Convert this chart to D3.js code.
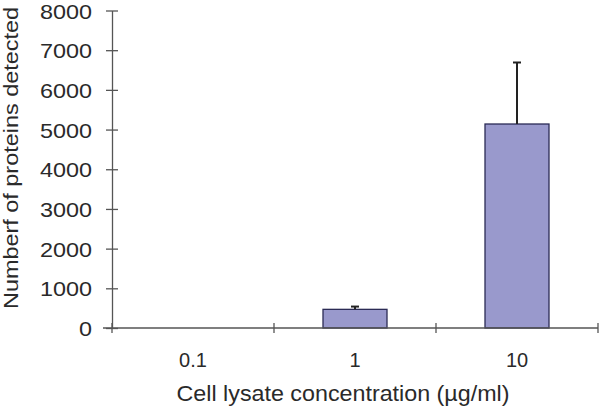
<!DOCTYPE html>
<html><head><meta charset="utf-8">
<script src="https://cdn.jsdelivr.net/npm/d3@7"></script>
<style>body{margin:0;background:#fff}svg{display:block}text{font-family:"Liberation Sans",Arial,sans-serif;fill:#2a2a2a}</style>
</head><body>
<script>
const categories = ["0.1", "1", "10"];
const values = [0, 470, 5140];
const errors = [0, 70, 1550];
const yTicks = [0,1000,2000,3000,4000,5000,6000,7000,8000];

const W = 600, H = 406;
const svg = d3.select("body").append("svg").attr("width", W).attr("height", H);
const x = d3.scaleBand().domain(categories).range([112, 598]).paddingInner(0).paddingOuter(0);
const y = d3.scaleLinear().domain([0, 8000]).range([328, 10.5]);

// bars
const barW = 64;
svg.selectAll("rect.bar").data(categories).enter().append("rect")
  .attr("x", d => x(d) + x.bandwidth()/2 - barW/2)
  .attr("width", barW)
  .attr("y", (d,i) => y(values[i]))
  .attr("height", (d,i) => y(0) - y(values[i]))
  .attr("fill", "#9999cc").attr("stroke", "#2b2b55").attr("stroke-width", 1.3)
  .style("display", (d,i) => values[i] > 0 ? null : "none");

// error bars
categories.forEach((c,i) => {
  if (!errors[i]) return;
  const cx = x(c) + x.bandwidth()/2;
  svg.append("line").attr("x1", cx).attr("x2", cx).attr("y1", y(values[i])).attr("y2", y(values[i]+errors[i]))
    .attr("stroke", "#222").attr("stroke-width", 2);
  svg.append("line").attr("x1", cx-4).attr("x2", cx+4).attr("y1", y(values[i]+errors[i])).attr("y2", y(values[i]+errors[i]))
    .attr("stroke", "#222").attr("stroke-width", 2);
});

// y axis
const yAxis = svg.append("g").attr("transform", "translate(112,0)")
  .call(d3.axisLeft(y).tickValues(yTicks).tickFormat(d3.format("d")).tickSizeInner(6).tickSizeOuter(0).tickPadding(14));
yAxis.select(".domain").attr("stroke", "#555").attr("stroke-width", 1.3);
yAxis.selectAll(".tick line").attr("x2", 6).attr("x1", -6).attr("stroke", "#555").attr("stroke-width", 1.3);
yAxis.selectAll(".tick text").attr("font-size", 21).attr("dy", "0.36em").style("fill", "#2a2a2a")
  .attr("textLength", d => String(d).length * 13).attr("lengthAdjust", "spacingAndGlyphs");

// x axis
const xAxis = svg.append("g").attr("transform", "translate(0,328)")
  .call(d3.axisBottom(x).tickSize(0).tickPadding(0));
xAxis.select(".domain").attr("d", "M103,0H598").attr("stroke", "#555").attr("stroke-width", 1.3);
xAxis.selectAll(".tick text").attr("font-size", 20).attr("y", 39).attr("dy", 0).style("fill", "#2a2a2a");
// boundary ticks
const bounds = categories.map(c => x(c) + x.bandwidth()).concat([x(categories[0])]);
svg.selectAll("line.xb").data(bounds).enter().append("line")
  .attr("x1", d => d).attr("x2", d => d).attr("y1", 323).attr("y2", 333)
  .attr("stroke", "#555").attr("stroke-width", 1.3);

// titles
svg.append("text").attr("x", 343).attr("y", 401).attr("text-anchor", "middle").attr("font-size", 22)
  .attr("textLength", 333).attr("lengthAdjust", "spacingAndGlyphs")
  .text("Cell lysate concentration (µg/ml)");
svg.append("text").attr("transform", "translate(18,158) rotate(-90)").attr("text-anchor", "middle").attr("font-size", 21)
  .attr("textLength", 302).attr("lengthAdjust", "spacingAndGlyphs")
  .text("Numberf of proteins detected");
</script>
</body></html>
